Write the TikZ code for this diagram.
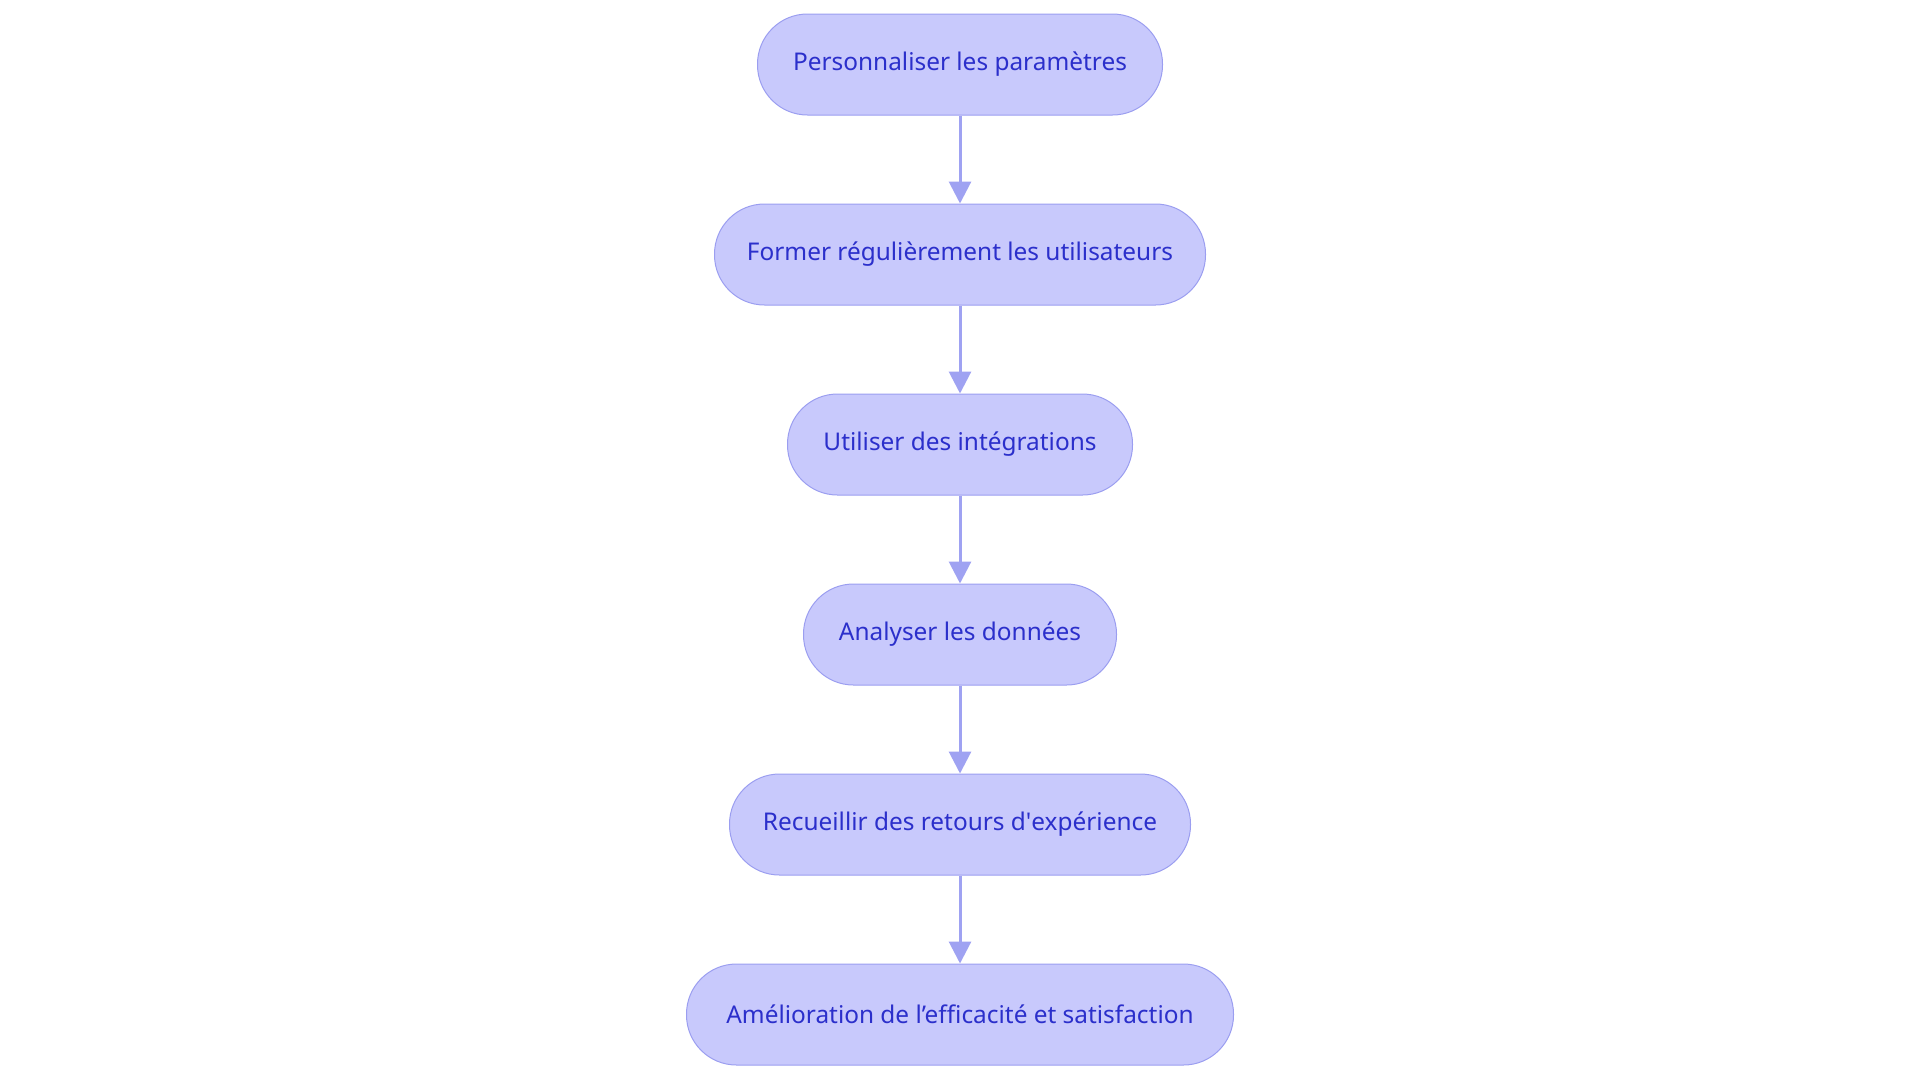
\documentclass[tikz,border=0pt]{standalone}
\usepackage{fontspec}
\setmainfont{Noto Sans}
\usetikzlibrary{arrows.meta}
\definecolor{boxfill}{HTML}{C8C9FC}
\definecolor{boxline}{HTML}{9B9EF0}
\definecolor{boxtext}{HTML}{2B2FCB}
\definecolor{arrowcol}{HTML}{9FA2F2}
\begin{document}
\begin{tikzpicture}[x=0.5pt,y=-0.5pt]
		\tikzset{stepbox/.style = {shape=rectangle, draw=boxline, line width=0.5pt, fill=boxfill, rounded corners=25pt, minimum height=50.5pt, inner sep=0pt, text=boxtext, font=\fontsize{12.2}{15}\selectfont}}
		\tikzset{flow/.style = {draw=arrowcol, line width=1.5pt, -{Triangle[width=11pt,length=11pt]}}}

		\useasboundingbox (0,0) rectangle (1920,1083);

		\node[stepbox, minimum width=202.5pt] (S_1) at (960,64.5) {Personnaliser les paramètres};
		\node[stepbox, minimum width=245.5pt] (S_2) at (960,254.5) {Former régulièrement les utilisateurs};
		\node[stepbox, minimum width=172.5pt] (S_3) at (960,444.5) {Utiliser des intégrations};
		\node[stepbox, minimum width=156.5pt] (S_4) at (960,634.5) {Analyser les données};
		\node[stepbox, minimum width=230.5pt] (S_5) at (960,824.5) {Recueillir des retours d\textquotesingle expérience};
		\node[stepbox, minimum width=273.5pt] (S_6) at (960,1014.5) {Amélioration de l’efficacité et satisfaction};


		\draw[flow] (S_1)--(S_2);
		\draw[flow] (S_2)--(S_3);
		\draw[flow] (S_3)--(S_4);
		\draw[flow] (S_4)--(S_5);
		\draw[flow] (S_5)--(S_6);

	\end{tikzpicture}
\end{document}
